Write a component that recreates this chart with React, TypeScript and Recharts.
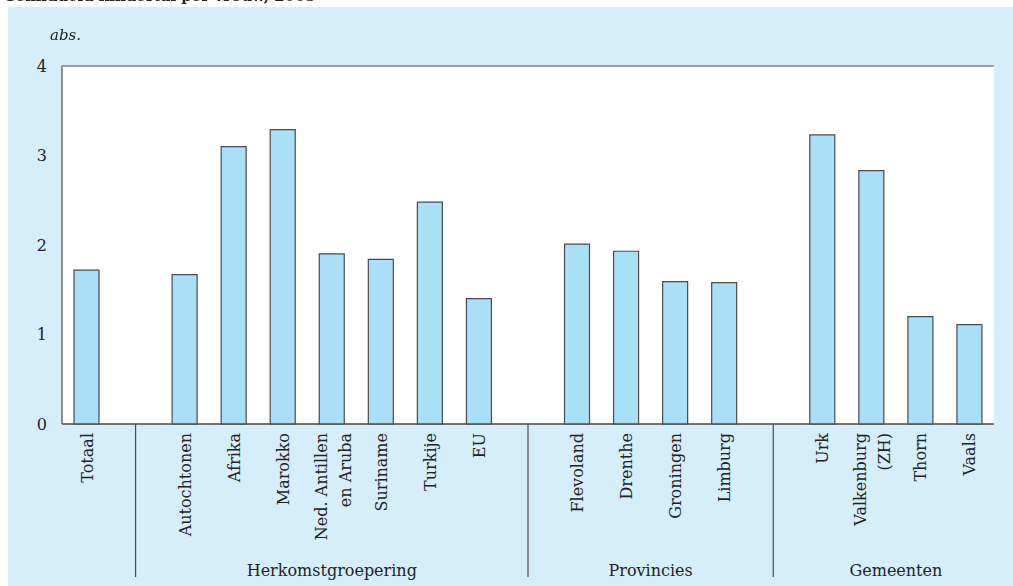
import React from 'react';
import { BarChart, Bar, XAxis, YAxis, CartesianGrid } from 'recharts';

const categories = [
  'Totaal', '', 'Autochtonen', 'Afrika', 'Marokko', 'Ned. Antillen\nen Aruba', 'Suriname', 'Turkije', 'EU',
  '', 'Flevoland', 'Drenthe', 'Groningen', 'Limburg',
  '', 'Urk', 'Valkenburg\n(ZH)', 'Thorn', 'Vaals',
];
const values = [
  1.72, null, 1.67, 3.10, 3.29, 1.90, 1.84, 2.48, 1.40,
  null, 2.01, 1.93, 1.59, 1.58,
  null, 3.23, 2.83, 1.20, 1.11,
];
const groups = [
  '', '', 'Herkomstgroepering', 'Herkomstgroepering', 'Herkomstgroepering', 'Herkomstgroepering',
  'Herkomstgroepering', 'Herkomstgroepering', 'Herkomstgroepering',
  '', 'Provincies', 'Provincies', 'Provincies', 'Provincies',
  '', 'Gemeenten', 'Gemeenten', 'Gemeenten', 'Gemeenten',
];
const yTicks = [0, 1, 2, 3, 4];
const title = 'Gemiddeld kindertal per vrouw, 2005';
const unit = 'abs.';

const W = 1013;
const H = 586;
const X_AXIS_H = 162;
const M = { top: 66, right: 19, bottom: 0, left: 22 };
const Y_AXIS_W = 40;
const SLOT = (W - M.left - M.right - Y_AXIS_W) / categories.length;
const FONT = '"DejaVu Serif", serif';
const INK = '#4a4a4a';

const data = categories.map((c, i) => ({ key: `c${i}`, value: values[i] }));

const XTick = (props: any) => {
  const { x, y, index } = props;
  const label = categories[index];
  const grp = groups[index];
  const out: React.ReactNode[] = [];
  if (label === '' && grp === '') {
    if (index > 0) {
      out.push(<line key="sep" x1={x} x2={x} y1={y} y2={y + 153} stroke={INK} strokeWidth={1.2} />);
    }
  } else {
    const lines = label.split('\n');
    const first = lines.length > 1 ? -5 : 6;
    out.push(
      <text key="t" transform={`translate(${x},${y + 9}) rotate(-90)`} textAnchor="end"
        fontFamily={FONT} fontSize={16} fill="#222">
        {lines.map((l, k) => (
          <tspan key={k} x={0} y={first + k * 24}>{l}</tspan>
        ))}
      </text>
    );
  }
  if (grp !== '' && groups[index - 1] !== grp) {
    const n = groups.filter((g) => g === grp).length;
    out.push(
      <text key="g" x={x + ((n - 1) / 2) * SLOT} y={y + 152} textAnchor="middle"
        fontFamily={FONT} fontSize={16} fill="#222">{grp}</text>
    );
  }
  return <g>{out}</g>;
};

const YTick = (props: any) => {
  const { y, payload } = props;
  return (
    <text x={47} y={y} textAnchor="end" dominantBaseline="central" fontFamily={FONT} fontSize={16} fill="#222">
      {payload.value}
    </text>
  );
};

export default function App() {
  return (
    <div style={{ position: 'fixed', left: 0, top: 0, width: W, height: H, background: '#fff' }}>
      <div style={{ position: 'absolute', left: 8, top: 7, width: 1200, height: 800, background: '#d6edfa' }} />
      <div style={{ position: 'absolute', left: 0, top: 0 }}>
        <BarChart width={W} height={H} data={data} margin={M} barSize={25}>
          <CartesianGrid vertical={false} stroke={INK} strokeWidth={1.2} fill="#fff" fillOpacity={1} />
          <XAxis dataKey="key" type="category" height={X_AXIS_H} axisLine={{ stroke: INK, strokeWidth: 1.2 }}
            tickLine={false} tickSize={0} tickMargin={0} interval={0} tick={<XTick />} />
          <YAxis yAxisId="l" domain={[0, 4]} ticks={yTicks} width={Y_AXIS_W} axisLine={{ stroke: INK, strokeWidth: 1.2 }}
            tickLine={false} tick={<YTick />} />
          <YAxis yAxisId="r" orientation="right" domain={[0, 4]} width={0} tick={false} tickLine={false}
            axisLine={{ stroke: INK, strokeWidth: 1.2 }} />
          <Bar yAxisId="l" dataKey="value" fill="#aadff8" stroke={INK} strokeWidth={1.2} isAnimationActive={false} />
        </BarChart>
      </div>
      <svg width={W} height={H} style={{ position: 'absolute', left: 0, top: 0, pointerEvents: 'none' }}>
        <text x={3} y={1} fontFamily={FONT} fontWeight="bold" fontSize={15} fill="#222">{title}</text>
        <text x={50} y={40} fontFamily={FONT} fontStyle="italic" fontSize={15} fill="#222">{unit}</text>
      </svg>
    </div>
  );
}
